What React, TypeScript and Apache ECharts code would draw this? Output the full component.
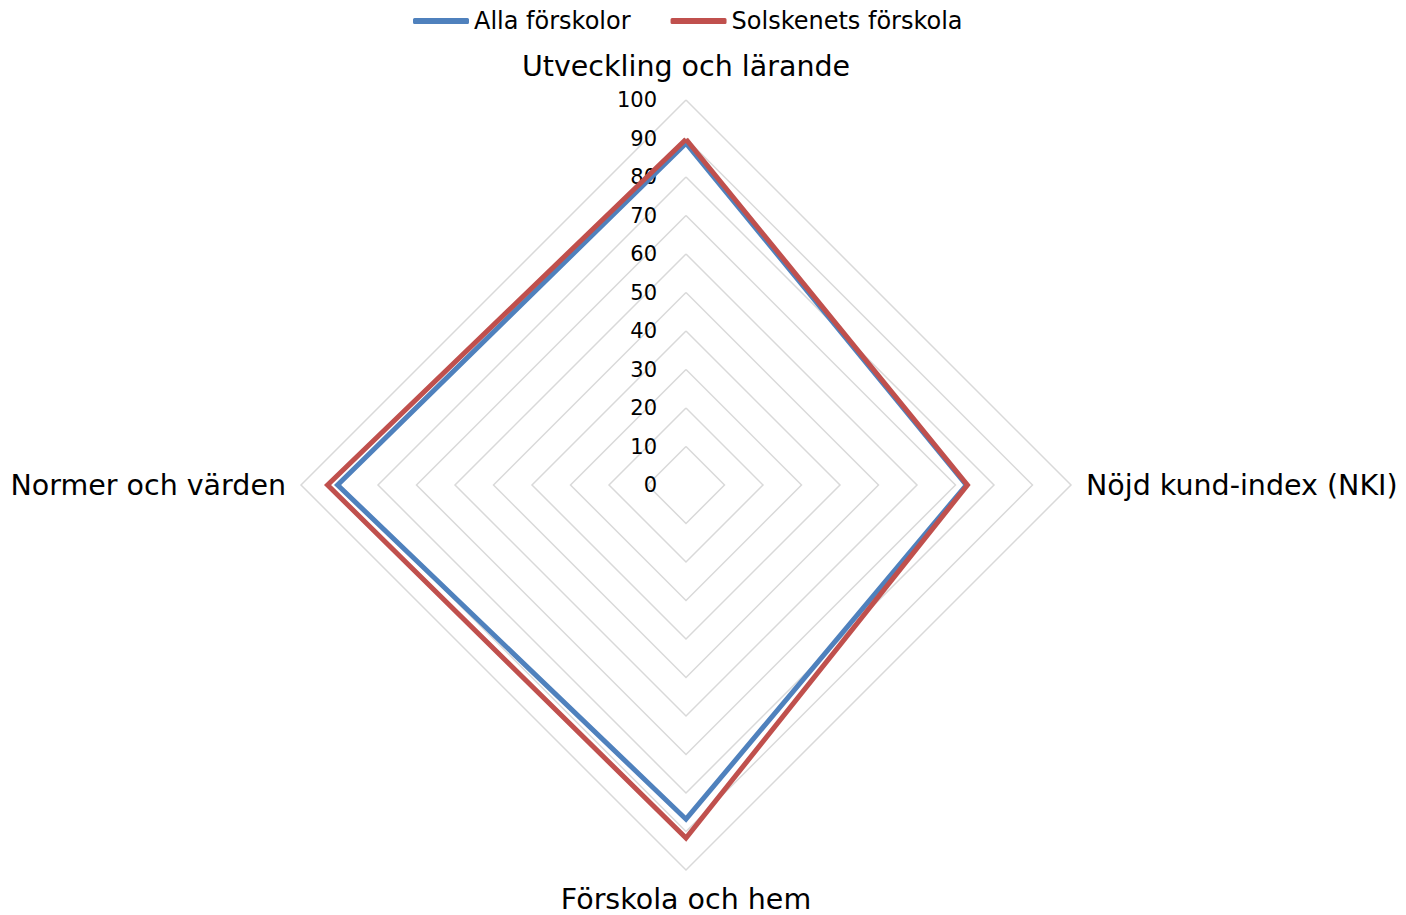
import React, { useEffect, useRef } from "react";
import * as echarts from "echarts";

const indicatorNames = [
  "Utveckling och lärande",
  "Normer och värden",
  "Förskola och hem",
  "Nöjd kund-index (NKI)",
];
const seriesNames = ["Alla förskolor", "Solskenets förskola"];
const allaValues = [88.8, 90.5, 86.8, 72.8];
const solskenValues = [89.8, 93.1, 91.7, 73.1];
const axisMax = 100;
const axisInterval = 10;

const FONT = "DejaVu Sans";

export default function App() {
  const ref = useRef<HTMLDivElement>(null);
  useEffect(() => {
    if (!ref.current) return;
    const chart = echarts.init(ref.current, null, { renderer: "svg" });
    chart.setOption({
      animation: false,
      backgroundColor: "#ffffff",
      legend: {
        top: 4,
        left: 408,
        itemWidth: 56,
        itemHeight: 6,
        itemGap: 40,
        icon: "roundRect",
        textStyle: { fontFamily: FONT, fontSize: 24, color: "#000" },
        data: seriesNames,
      },
      grid: { left: 686, top: 100, height: 385, width: 10 },
      xAxis: { type: "value", show: false, min: 0, max: 1 },
      yAxis: {
        type: "value",
        min: 0,
        max: axisMax,
        interval: axisInterval,
        axisLine: { show: false },
        axisTick: { show: false },
        splitLine: { show: false },
        axisLabel: { margin: 29, fontFamily: FONT, fontSize: 21, color: "#000" },
      },
      radar: {
        center: [686, 485],
        radius: 385,
        shape: "polygon",
        splitNumber: 10,
        startAngle: 90,
        nameGap: 15,
        axisName: {
          fontFamily: FONT,
          fontSize: 28.5,
          color: "#000",
          formatter: (name: string) =>
            name === indicatorNames[0] ? `{top|${name}}` : name,
          rich: {
            top: {
              fontFamily: FONT,
              fontSize: 28.5,
              color: "#000",
              padding: [0, 0, 4, 0],
            },
          },
        },
        axisLine: { show: false },
        axisTick: { show: false },
        axisLabel: { show: false },
        splitArea: { show: false },
        splitLine: { lineStyle: { color: "#d9d9d9", width: 1.5 } },
        indicator: indicatorNames.map((n) => ({ name: n, min: 0, max: axisMax })),
      },
      series: [
        {
          type: "radar",
          symbol: "none",
          data: [
            {
              name: seriesNames[0],
              value: allaValues,
              lineStyle: { color: "#4f81bd", width: 5, join: "miter" },
              itemStyle: { color: "#4f81bd" },
            },
            {
              name: seriesNames[1],
              value: solskenValues,
              lineStyle: { color: "#c0504d", width: 5, join: "miter" },
              itemStyle: { color: "#c0504d" },
            },
          ],
        },
      ],
    });
    return () => chart.dispose();
  }, []);
  return (
    <div
      ref={ref}
      style={{ position: "fixed", left: 0, top: 0, width: 1406, height: 915 }}
    />
  );
}
